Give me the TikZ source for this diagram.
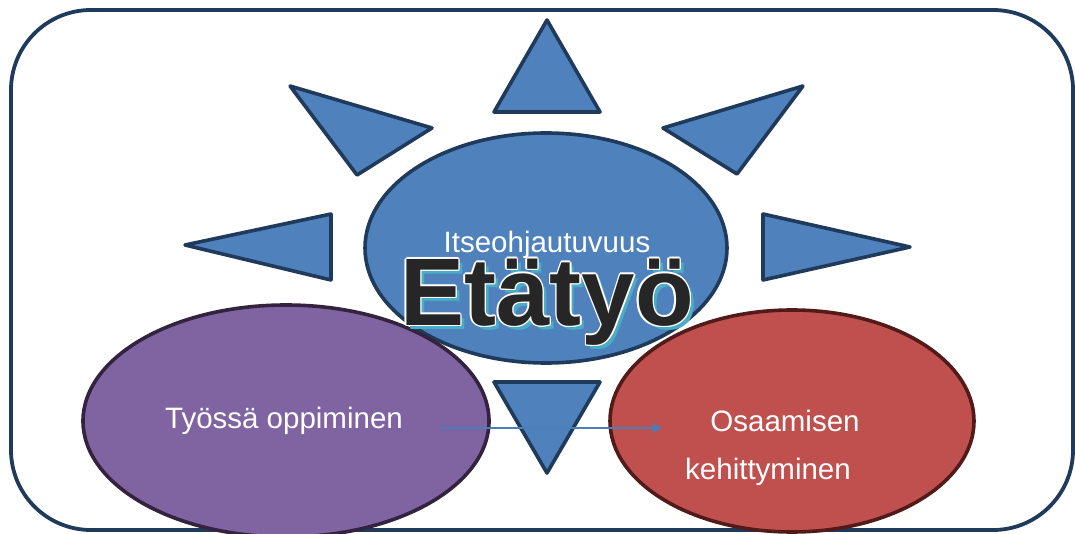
\documentclass[tikz,border=0pt]{standalone}
\usepackage{fontspec}
\setmainfont{Liberation Sans}
\usetikzlibrary{shapes.geometric,arrows.meta}
\definecolor{tblue}{HTML}{4F81BD}
\definecolor{tdark}{HTML}{1F3A5A}
\definecolor{tpurple}{HTML}{8064A2}
\definecolor{tpurpled}{HTML}{33233F}
\definecolor{tred}{HTML}{C0504D}
\definecolor{tredd}{HTML}{521A19}
\definecolor{tcyan}{HTML}{4BACC6}
\definecolor{ttext}{HTML}{262626}
\definecolor{tarrow}{HTML}{4A7EBB}
\tikzset{
  ray/.style={fill=tblue,draw=tdark,line width=3.6pt,line join=round},
  bubble/.style={ellipse,line width=3.6pt,inner sep=0pt},
  lbl/.style={text=white,font=\fontsize{29.5}{34}\selectfont,align=center},
  big/.style={font=\fontsize{96}{100}\bfseries\selectfont,inner sep=0pt}
}
\begin{document}
\begin{tikzpicture}[x=1pt,y=-1pt]
\useasboundingbox (0,0) rectangle (1075,534);
\begin{scope}
\clip (0,0) rectangle (1075,534);
% frame
\draw[tdark,line width=3.8pt,rounded corners=80pt] (11,10) rectangle (1073,530);
% rays
\draw[ray] (547,20) -- (600,112) -- (494,112) -- cycle;
\draw[ray] (290,86) -- (432,128) -- (357,175) -- cycle;
\draw[ray] (803,86) -- (663,128) -- (737,174) -- cycle;
\draw[ray] (185,245) -- (331,214) -- (331,280) -- cycle;
\draw[ray] (910,247) -- (763,214) -- (763,280) -- cycle;
\draw[ray] (547,473) -- (600,382) -- (494,382) -- cycle;
% ellipses
\node[bubble,fill=tblue,draw=tdark,minimum width=362pt,minimum height=230pt] (center) at (546,248) {};
\node[bubble,fill=tpurple,draw=tpurpled,minimum width=406pt,minimum height=232pt] (learn) at (286,421) {};
\node[bubble,fill=tred,draw=tredd,minimum width=364pt,minimum height=222pt] (skill) at (792,421) {};
\end{scope}
% texts
\node[lbl] (self) at (547,245) {Itseohjautuvuus};
\node[big,text=tcyan] (shadow) at (551,306) {Etätyö};
\foreach \dx/\dy in {-1.6/0,1.6/0,0/-1.6,0/1.6,-1.1/-1.1,1.1/1.1,-1.1/1.1,1.1/-1.1}
  \node[big,text=white] at (547+\dx,302+\dy) {Etätyö};
\node[big,text=ttext] (title) at (547,302) {Etätyö};
\node[lbl] (learntxt) at (284,421) {Työssä oppiminen};
\node[lbl] (skill1) at (785,421) {Osaamisen};
\node[lbl] (skill2) at (768,472) {kehittyminen};
% arrow
\coordinate (a1) at (440,428);
\coordinate (a2) at (662,428);
\draw[tarrow,line width=1.3pt,-{Triangle[length=9pt,width=9pt]}] (a1) -- (a2);
\end{tikzpicture}
\end{document}
